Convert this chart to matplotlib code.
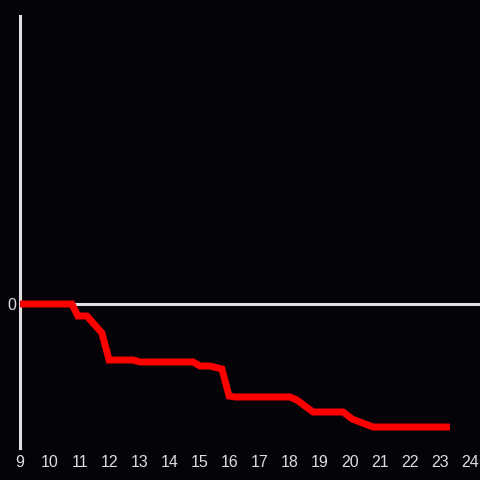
import matplotlib
matplotlib.use("Agg")
import matplotlib.pyplot as plt

hours = [9.0, 10.73, 10.93, 11.23, 11.73, 11.97, 12.77, 13.0, 14.77, 15.0, 15.33, 15.73, 15.97, 16.17,
         18.0, 18.23, 18.77, 19.77, 20.07, 20.77, 23.33]
values = [0, 0, -12, -12, -29, -56, -56, -58, -58, -62, -62, -65, -92, -93,
          -93, -96, -108, -108, -115, -123, -123]
xticks = list(range(9, 25))

plt.rcParams["font.family"] = ["Liberation Sans", "DejaVu Sans"]
bg = "#050308"
fig = plt.figure(figsize=(4.8, 4.8), dpi=100, facecolor=bg)
ax = fig.add_axes([20/480, 32/480, 460/480, 432/480], facecolor=bg)
ax.set_xlim(9, 9 + 460/30)
ax.set_ylim(-144, 288)
ax.axhline(0, color="#e0e0e0", lw=2.2, zorder=2)
ax.plot(hours, values, color="#ff0000", lw=5, zorder=3, solid_joinstyle="miter", solid_capstyle="butt")
for s in ["top", "right", "bottom"]:
    ax.spines[s].set_visible(False)
ax.spines["left"].set_color("#e0e0e0")
ax.spines["left"].set_linewidth(2.2)
ax.set_xticks(xticks)
ax.set_xticklabels([str(t) for t in xticks])
ax.set_yticks([0])
ax.set_yticklabels(["0"])
ax.tick_params(axis="both", length=0, colors="#dddddd", labelsize=11.5)
ax.tick_params(axis="x", pad=5)
ax.tick_params(axis="y", pad=3)
fig.savefig("out.png", dpi=100, facecolor=bg)
